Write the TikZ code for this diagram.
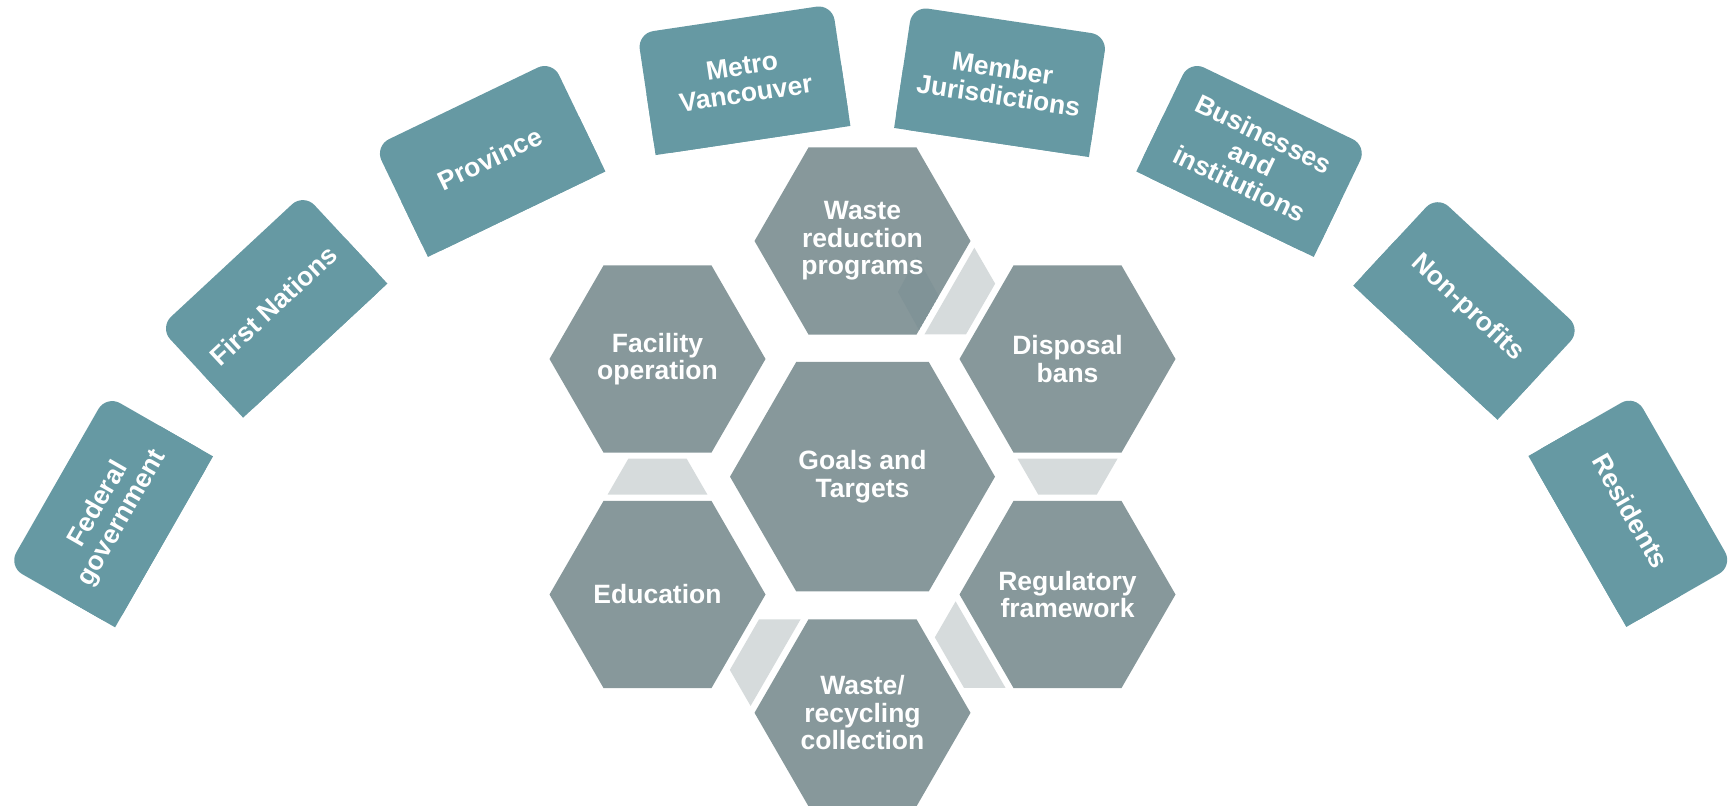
\documentclass[tikz,border=0pt]{standalone}
\usepackage{fontspec}
\setmainfont{Liberation Sans}
\usepackage{tikz}
\usetikzlibrary{shapes,calc,positioning,backgrounds}
\definecolor{stakeTeal}{HTML}{6699A3}
\definecolor{hexGrey}{HTML}{87989B}
\definecolor{hexShade}{HTML}{809397}
\definecolor{linkGrey}{HTML}{D6DBDC}
\newcommand{\Label}{\fontsize{13.25}{13.8}\selectfont\bfseries}
\tikzstyle{Stake} = [rectangle, rounded corners=8pt, minimum width=98.5pt, minimum height=61.5pt, inner sep=0pt, outer sep=0pt, fill=stakeTeal, text=white, font=\Label, align=center]
\tikzstyle{Hex} = [regular polygon, regular polygon sides=6, minimum size=108pt, inner sep=-40pt, outer sep=0pt, fill=hexGrey, text=white, font=\Label, align=center]
\tikzstyle{BigHex} = [Hex, minimum size=132.5pt]
\tikzstyle{Link} = [fill=linkGrey]
% trapezoid in the gap between two hexagons, wide end at the first one
\newcommand{\hexlink}[2]{%
\fill[Link] ($(#1)!0.5!(#2)!9pt!(#1)!25pt!90:(#1)$)
 -- ($(#1)!0.5!(#2)!9pt!(#2)!14.6pt!-90:(#2)$)
 -- ($(#1)!0.5!(#2)!9pt!(#2)!14.6pt!90:(#2)$)
 -- ($(#1)!0.5!(#2)!9pt!(#1)!25pt!-90:(#1)$) -- cycle;}

\begin{document}
\begin{tikzpicture}[x=0.5pt, y=-0.5pt]
\useasboundingbox (0,0) rectangle (1733,806);

\node (Federal)[Stake, rotate=60.2] at (110.7,511.3) {Federal\\government};
\node (First Nations)[Stake, rotate=42.9] at (273.4,305.6) {First Nations};
\node (Province)[Stake, rotate=25.7] at (490,158.8) {Province};
\node (Metro)[Stake, rotate=8.5] at (743.9,79.7) {Metro\\Vancouver};
\node (Members)[Stake, rotate=-8.5] at (1000.6,81.7) {Member\\Jurisdictions};
\node (Businesses)[Stake, rotate=-25.7] at (1251.7,158.8) {Businesses\\and\\institutions};
\node (Non-profits)[Stake, rotate=-42.9] at (1467.2,307.7) {Non-profits};
\node (Residents)[Stake, rotate=-60.2] at (1630.7,510.9) {Residents};

% square corners on the inner side of each box
\begin{scope}[on background layer]
\foreach \s in {Federal,First Nations,Province,Metro,Members,Businesses,Non-profits,Residents}
  \fill[stakeTeal] (\s.west) -- (\s.south west) -- (\s.south east) -- (\s.east) -- cycle;
\end{scope}

\node (Goals)[BigHex] at (862.5,476.7) {Goals and\\Targets};
\node (Waste Reduction)[Hex, path picture={
  \fill[hexShade] ($(path picture bounding box.center)+(35.5,51)$) -- ++(19,-35) -- ++(21.7,39) -- ++(-19.6,34) -- cycle;}]
  at (862.5,241) {Waste\\reduction\\programs};
\node (Disposal Bans)[Hex] at (1067.5,359) {Disposal\\bans};
\node (Regulatory)[Hex] at (1067.5,594.5) {Regulatory\\framework};
\node (Collection)[Hex] at (862.5,712.8) {Waste/\\recycling\\collection};
\node (Education)[Hex] at (657.5,594.5) {Education};
\node (Facility)[Hex] at (657.5,359) {Facility\\operation};

\hexlink{Waste Reduction}{Disposal Bans}
\hexlink{Disposal Bans}{Regulatory}
\hexlink{Regulatory}{Collection}
\hexlink{Collection}{Education}
\hexlink{Education}{Facility}

\end{tikzpicture}
\end{document}
